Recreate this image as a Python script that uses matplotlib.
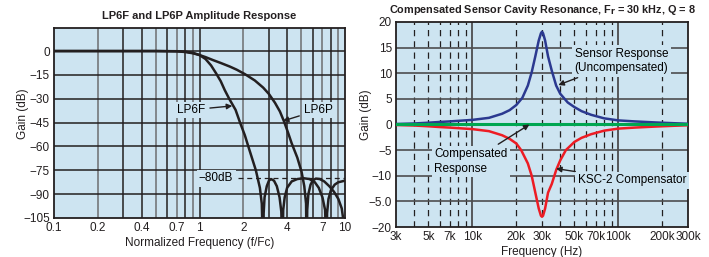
import matplotlib
matplotlib.use("Agg")
import matplotlib.pyplot as plt
from matplotlib.ticker import FixedLocator, NullLocator

plt.rcParams['font.family'] = ['Liberation Sans', 'DejaVu Sans']
plt.rcParams['axes.unicode_minus'] = True

BG = '#cde4f1'
INK = '#231f20'

# ---- left panel: LP6F / LP6P amplitude response (normalized frequency, dB)
lp6f_freq = [0.1, 0.3, 0.5, 0.7, 0.8, 0.9, 1.0, 1.1, 1.2, 1.3, 1.4, 1.49, 1.6, 1.77, 1.9,
             2.05, 2.2, 2.44, 2.6, 2.68, 2.74,
             2.76, 2.8, 2.9, 3.0, 3.1, 3.25, 3.4, 3.55, 3.65, 3.72,
             3.76, 3.85, 4.0, 4.3, 4.7, 5.2, 5.7, 6.2, 6.6, 7.0, 7.3, 7.48,
             7.53, 7.7, 8.0, 8.5, 9.0, 9.5, 10.0]
lp6f_db = [0, 0, 0, -0.1, -0.4, -1.1, -2.5, -5, -9, -14, -19, -24.5, -30, -37, -45,
           -53, -62, -75, -86, -96, -130,
           -102, -92, -85, -81.5, -80.5, -81.5, -85, -92, -101, -130,
           -100, -92, -86, -82, -80.5, -80, -80.5, -82.5, -86, -92, -100, -130,
           -102, -93, -87.5, -84, -82.5, -82, -81.5]

lp6p_freq = [0.1, 0.5, 0.7, 0.8, 0.9, 1.0, 1.1, 1.24, 1.4, 1.62, 1.8, 2.05, 2.4, 2.74,
             3.0, 3.3, 3.57, 3.8, 4.05, 4.3, 4.7, 5.03, 5.25, 5.4, 5.45,
             5.5, 5.6, 5.8, 6.0, 6.3, 6.7, 7.2, 7.8, 8.4, 9.0, 9.5, 9.8, 10.0]
lp6p_db = [0, 0, -0.2, -0.6, -1.4, -2.5, -3.8, -5.7, -7.5, -9.8, -11.7, -14.5, -18.5, -23,
           -27, -32.5, -38, -44, -51, -58, -67, -76, -85, -96, -130,
           -100, -90, -84, -81.5, -80.2, -80.5, -82, -85, -88.5, -93, -99, -108, -130]

left_xticks = [0.1, 0.2, 0.4, 0.7, 1, 2, 4, 7, 10]
left_xlabels = ['0.1', '0.2', '0.4', '0.7', '1', '2', '4', '7', '10']
left_yticks = [0, -15, -30, -45, -60, -75, -90, -105]

# ---- right panel: sensor resonance and compensator (kHz, dB)
sensor_khz = [3, 4, 5, 6, 7, 10, 13, 16, 18, 20, 22, 24, 25.5, 27, 28.5, 29.5, 30,
              30.5, 31.5, 33, 35, 37.5, 40, 45, 50, 56, 65, 80, 100, 130, 180, 240, 300]
sensor_db = [0.1, 0.2, 0.35, 0.5, 0.6, 0.9, 1.3, 2.1, 2.8, 3.8, 5.2, 7.6, 10.2, 13.3,
             16.4, 17.8, 18.1, 17.8, 16.4, 13.3, 10.5, 7.6, 6.0, 4.3, 3.4, 2.6, 1.9,
             1.2, 0.8, 0.6, 0.4, 0.25, 0.15]

comp_khz = [3, 4, 5, 6, 7, 10, 13, 16, 18, 20, 21.6, 24, 25.5, 27, 28.5, 29.5, 30,
            30.5, 31.5, 33, 35, 37.6, 40, 43.7, 50, 56, 65, 80, 100, 130, 180, 240, 300]
comp_db = [-0.1, -0.2, -0.35, -0.5, -0.6, -0.9, -1.3, -2.1, -2.8, -3.7, -5.0, -7.6,
           -10.0, -13.3, -16.4, -17.8, -18.0, -17.8, -16.4, -13.3, -11.6, -8.8, -7.0,
           -5.0, -3.4, -2.6, -1.9, -1.2, -0.8, -0.6, -0.4, -0.25, -0.15]

compensated_khz = [3, 300]
compensated_db = [0, 0]

right_xticks = [3, 5, 7, 10, 20, 30, 50, 70, 100, 200, 300]
right_xlabels = ['3k', '5k', '7k', '10k', '20k', '30k', '50k', '70k', '100k', '200k', '300k']
right_yticks = [20, 15, 10, 5, 0, -5, -10, -15, -20]
right_ylabels = ['20', '15', '10', '5', '0', '\u22125', '\u221210', '\u22125.0', '\u221220']

fig = plt.figure(figsize=(7.09, 2.57), dpi=100)

box = dict(boxstyle='square,pad=0.2', fc=BG, ec='none')
arrow = dict(arrowstyle='-|>', color=INK, lw=1.0, mutation_scale=8, shrinkA=2, shrinkB=0)

# ================= left panel =================
ax1 = fig.add_axes([54 / 709, 1 - 218 / 257, 291 / 709, 190 / 257])
ax1.set_facecolor(BG)
ax1.set_xscale('log')
ax1.set_xlim(0.1, 10)
ax1.set_ylim(-105, 14.5)

for v in [0.2, 0.3, 0.4, 0.5, 0.6, 0.7, 0.8, 0.9, 1, 2, 3, 4, 5, 6, 7, 8, 9]:
    c = '#6d6e71' if v in (0.2, 0.5, 0.7, 0.9, 2, 5, 7, 9) else INK
    ax1.axvline(v, color=c, lw=1.1, zorder=1)
for v in left_yticks[:-1]:
    ax1.axhline(v, color=INK, lw=1.1, zorder=1)

ax1.plot(lp6f_freq, lp6f_db, color=INK, lw=1.8, zorder=4)
ax1.plot(lp6p_freq, lp6p_db, color=INK, lw=1.8, zorder=4)

# -80 dB reference
ax1.plot([1.85, 10], [-80, -80], color=INK, lw=0.9, ls=(0, (4, 3)), zorder=3)
ax1.text(1.3, -80, '\u221280dB', ha='center', va='center', fontsize=8.5, bbox=box, zorder=5)

ax1.annotate('LP6F', xy=(1.68, -34.5), xytext=(0.87, -37), ha='center', va='center',
             fontsize=8.5, bbox=box, arrowprops=arrow, zorder=5)
ax1.annotate('LP6P', xy=(3.74, -44), xytext=(6.6, -37), ha='center', va='center',
             fontsize=8.5, bbox=box, arrowprops=arrow, zorder=5)

ax1.xaxis.set_major_locator(FixedLocator(left_xticks))
ax1.xaxis.set_minor_locator(NullLocator())
ax1.set_xticklabels(left_xlabels)
ax1.set_yticks(left_yticks)
ax1.set_yticklabels([('\u2212' + str(-v)) if v < 0 else str(v) for v in left_yticks])
ax1.tick_params(length=0, labelsize=8.5, pad=3, colors=INK)
for s in ax1.spines.values():
    s.set_color(INK)
    s.set_linewidth(1.3)
ax1.set_xlabel('Normalized Frequency (f/Fc)', fontsize=8.5, color=INK)
ax1.xaxis.set_label_coords(0.5, -0.1)
ax1.set_ylabel('Gain (dB)', fontsize=8.5, color=INK)
ax1.yaxis.set_label_coords(-0.086, 0.55)
fig.text(199 / 709, 1 - 16 / 257, 'LP6F and LP6P Amplitude Response', ha='center',
         va='center', fontsize=8, fontweight='bold', color=INK)

# ================= right panel =================
ax2 = fig.add_axes([396 / 709, 1 - 227 / 257, 292 / 709, 205 / 257])
ax2.set_facecolor(BG)
ax2.set_xscale('log')
ax2.set_xlim(3, 300)
ax2.set_ylim(-20, 20)

for v in [4, 5, 6, 7, 8, 9, 20, 30, 40, 50, 60, 70, 80, 90, 200]:
    ax2.axvline(v, color=INK, lw=0.9, ls=(0, (5, 4)), zorder=1)
for v in [10, 100]:
    ax2.axvline(v, color='#4d4d4f', lw=1.3, zorder=1)
for v in [15, 10, 5, -5, -10, -15]:
    ax2.axhline(v, color='#4d4d4f', lw=1.2, zorder=1)

ax2.plot(sensor_khz, sensor_db, color='#2b3990', lw=1.8, zorder=3)
ax2.plot(comp_khz, comp_db, color='#ed1c24', lw=1.8, zorder=3)
ax2.plot(compensated_khz, compensated_db, color='#00a651', lw=2.2, zorder=4)

ax2.annotate('Sensor Response\n(Uncompensated)', xy=(38.8, 7.7), xytext=(105, 12.4),
             ha='center', va='center', fontsize=8.5, linespacing=1.3, bbox=box,
             arrowprops=arrow, zorder=5)
ax2.annotate('Compensated\nResponse', xy=(24.6, 0.0), xytext=(5.5, -7.2),
             ha='left', va='center', fontsize=8.5, linespacing=1.3, bbox=box,
             arrowprops=arrow, zorder=5)
ax2.annotate('KSC-2 Compensator', xy=(37.4, -8.6), xytext=(52.7, -10.9),
             ha='left', va='center', fontsize=8.5, bbox=box,
             arrowprops=arrow, zorder=5)

ax2.xaxis.set_major_locator(FixedLocator(right_xticks))
ax2.xaxis.set_minor_locator(NullLocator())
ax2.set_xticklabels(right_xlabels)
ax2.set_yticks(right_yticks)
ax2.set_yticklabels(right_ylabels)
ax2.tick_params(length=0, labelsize=8.5, pad=3, colors=INK)
for s in ax2.spines.values():
    s.set_color(INK)
    s.set_linewidth(1.3)
ax2.set_xlabel('Frequency (Hz)', fontsize=8.5, color=INK)
ax2.xaxis.set_label_coords(0.5, -0.092)
ax2.set_ylabel('Gain (dB)', fontsize=8.5, color=INK)
ax2.yaxis.set_label_coords(-0.082, 0.546)
fig.text(542 / 709, 1 - 10 / 257,
         'Compensated Sensor Cavity Resonance, F$_\\mathbf{r}$ = 30 kHz, Q = 8',
         ha='center', va='center', fontsize=7.8, fontweight='bold', color=INK)

fig.savefig('out.png', dpi=100, facecolor='white')
